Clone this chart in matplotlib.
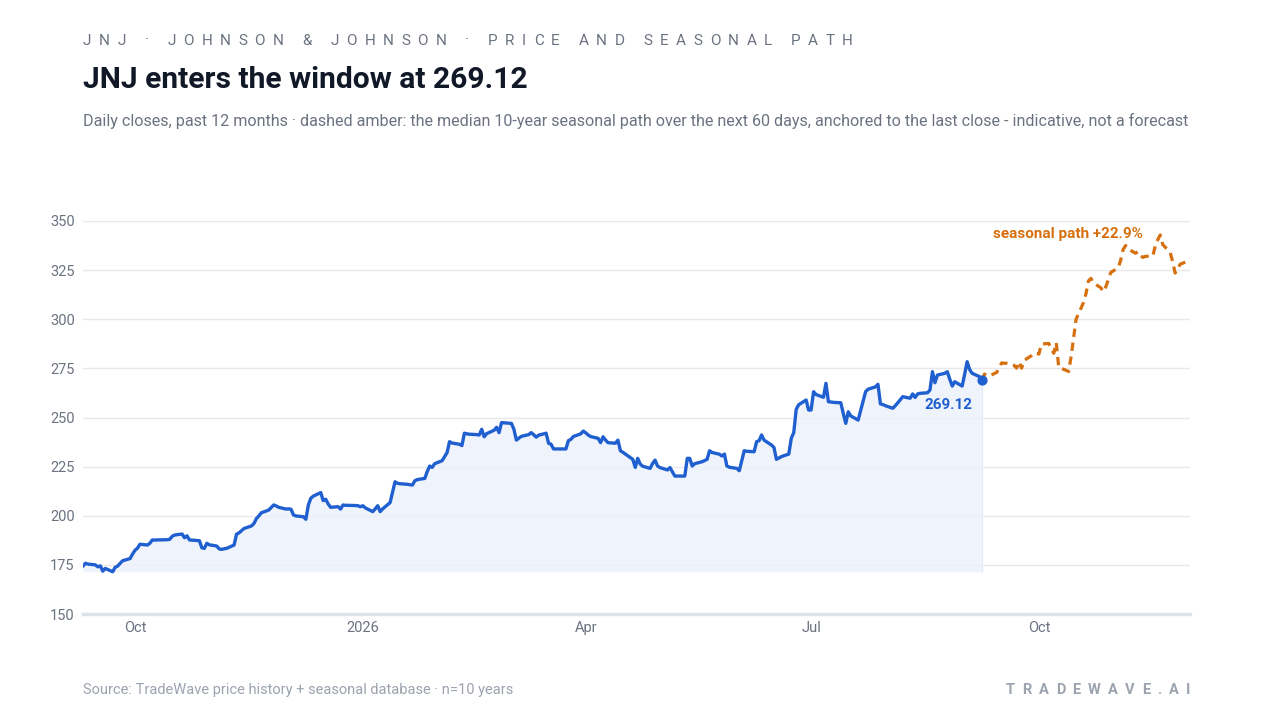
import matplotlib
matplotlib.use('Agg')
import matplotlib.pyplot as plt
import matplotlib.dates as mdates
from matplotlib.font_manager import FontProperties
import numpy as np
import pandas as pd

plt.rcParams['font.family'] = ['Roboto', 'DejaVu Sans']

# daily closes, past 12 months
closes = [
    174.4, 175.8, 175.4, 175.0, 174.0, 174.5, 171.8, 173.2, 171.5, 173.8,
    174.4, 175.8, 177.1, 178.2, 180.5, 182.4, 183.5, 185.5, 185.1, 186.0,
    187.7, 187.6, 187.7, 187.8, 187.8, 188.0, 189.5, 190.2, 190.7, 188.8,
    189.8, 187.7, 187.6, 187.3, 183.7, 183.4, 186.0, 185.2, 184.6, 183.1,
    182.9, 183.2, 183.4, 185.1, 190.6, 191.3, 192.4, 193.5, 194.8, 196.0,
    198.5, 199.9, 201.5, 202.9, 204.2, 205.5, 205.0, 204.3, 203.4, 203.5,
    203.3, 200.4, 199.9, 199.5, 198.2, 205.5, 208.9, 210.0, 211.8, 207.7,
    208.4, 206.0, 204.3, 204.6, 203.4, 205.5, 205.3, 205.3, 205.2, 205.1,
    204.6, 205.1, 204.0, 202.1, 203.5, 205.1, 202.1, 203.5, 206.7, 212.0,
    217.3, 216.5, 216.3, 216.0, 215.8, 215.6, 217.8, 218.4, 219.0, 222.5,
    225.3, 224.6, 226.5, 228.0, 230.0, 232.1, 237.7, 237.0, 236.4, 235.7,
    242.0, 241.7, 241.5, 241.3, 241.1, 244.0, 240.2, 241.8, 243.5, 245.0,
    242.3, 247.4, 247.3, 247.0, 244.0, 238.5, 239.5, 240.4, 241.3, 242.3,
    241.2, 240.0, 241.0, 242.0, 236.9, 236.4, 234.0, 234.0, 234.0, 234.0,
    238.2, 238.9, 240.3, 241.7, 243.1, 242.2, 241.1, 240.3, 239.4, 237.2,
    240.2, 238.5, 237.2, 236.9, 238.5, 233.1, 232.3, 231.4, 228.7, 224.6,
    229.2, 226.3, 225.2, 224.1, 226.6, 228.3, 225.3, 224.5, 223.3, 224.5,
    222.4, 220.2, 220.2, 220.2, 229.2, 229.2, 225.3, 226.5, 227.5, 228.1,
    228.7, 233.1, 232.2, 231.3, 230.4, 231.4, 225.3, 224.7, 224.1, 222.9,
    228.0, 233.1, 232.8, 232.6, 237.7, 238.2, 241.1, 238.5, 236.0, 234.8,
    228.7, 229.4, 230.1, 231.4, 239.4, 242.3, 254.2, 256.5, 258.9, 253.8,
    253.8, 263.1, 261.7, 260.3, 267.4, 258.0, 257.9, 257.7, 257.5, 252.0,
    247.0, 252.9, 250.8, 248.7, 253.5, 258.3, 263.1, 264.4, 265.6, 266.9,
    256.9, 256.6, 256.0, 254.7, 256.0, 257.5, 259.0, 260.6, 259.8, 262.0,
    260.2, 262.0, 262.3, 262.6, 264.0, 273.3, 267.7, 271.6, 272.5, 273.3,
    269.5, 266.0, 268.2, 266.0, 272.0, 278.4, 274.5, 272.5, 270.8, 269.12,
]

# median 10-year seasonal path, next 60 trading days, anchored to last close
seasonal = [
    269.12, 272.1, 271.5, 271.1, 273.0, 276.0, 277.8, 277.6, 277.6, 276.5,
    275.1, 278.4, 275.1, 279.0, 281.5, 282.7, 282.5, 282.3, 287.4, 287.7,
    284.7, 282.7, 288.1, 275.5, 274.0, 273.4, 281.0, 290.5, 300.0, 308.5,
    313.0, 319.5, 320.8, 318.5, 316.0, 314.0, 316.5, 320.0, 323.8, 326.2,
    330.0, 335.5, 337.5, 335.8, 333.6, 334.4, 332.3, 331.5, 332.0, 332.2,
    337.5, 340.5, 342.9, 338.0, 334.0, 329.3, 323.5, 325.5, 328.0, 329.5,
    330.75,
]

last_date = '2026-09-08'
yticks = [150, 175, 200, 225, 250, 275, 300, 325, 350]

header = 'JNJ · JOHNSON & JOHNSON · PRICE AND SEASONAL PATH'
title = 'JNJ enters the window at 269.12'
subtitle = ('Daily closes, past 12 months · dashed amber: the median 10-year seasonal path '
            'over the next 60 days, anchored to the last close - indicative, not a forecast')
source = 'Source: TradeWave price history + seasonal database · n=10 years'
brand = 'TRADEWAVE.AI'

BLUE = '#1f5fd0'
AMBER = '#d6700e'
GRAY = '#6b7280'
LIGHT = '#9ca3af'

dates = pd.bdate_range(end=last_date, periods=len(closes))
sdates = pd.bdate_range(start=last_date, periods=len(seasonal))
closes = np.array(closes)
seasonal = np.array(seasonal)

W, H = 1280, 720
fig = plt.figure(figsize=(12.8, 7.2), dpi=100)
ax = fig.add_axes([83 / W, (H - 614) / H, (1190 - 83) / W, (614 - 221) / H])

ax.fill_between(dates, closes, closes.min(), color='#edf2fc', alpha=0.85, lw=0, zorder=1)
ax.plot([dates[-1], dates[-1]], [closes.min(), closes[-1]], color='#e4e9f3', lw=0.8, zorder=1)
ax.plot(dates, closes, color=BLUE, lw=2.4, zorder=3, solid_joinstyle='round')
ax.plot(sdates, seasonal, color=AMBER, lw=2.3, ls=(0, (2.6, 1.8)), zorder=3)
ax.scatter([dates[-1]], [closes[-1]], s=40, color=BLUE, zorder=4)

ax.text(dates[-1] - pd.Timedelta(days=4), 256.4, f'{closes[-1]:.2f}', color=BLUE,
        fontsize=11, fontweight='bold', ha='right', va='center')
pct = (seasonal[-1] / seasonal[0] - 1) * 100
ax.text(pd.Timestamp('2026-11-12'), 343.4, f'seasonal path +{pct:.1f}%', color=AMBER,
        fontsize=11, fontweight='bold', ha='right', va='center')

ax.set_xlim(dates[0], sdates[-1])
ax.set_ylim(150, 350)
ax.set_yticks(yticks)
ax.grid(axis='y', color='#e6e8ee', lw=1)
ax.set_axisbelow(True)
for s in ['left', 'right', 'top']:
    ax.spines[s].set_visible(False)
ax.spines['bottom'].set_color('#dde1e8')
ax.spines['bottom'].set_linewidth(2.4)

ax.xaxis.set_major_locator(mdates.MonthLocator(bymonth=[1, 4, 7, 10]))
ax.xaxis.set_major_formatter(plt.FuncFormatter(
    lambda v, p: mdates.num2date(v).strftime('%Y' if mdates.num2date(v).month == 1 else '%b')))
ax.tick_params(axis='both', length=0, labelsize=10.5, labelcolor=GRAY)
ax.tick_params(axis='y', pad=6)
ax.tick_params(axis='x', pad=5)


def spaced_text(x_px, y_px, s, width_px, ha='left', **kw):
    # letter-spaced text fitted to a given width
    r = fig.canvas.get_renderer()
    fp = FontProperties(family=['Roboto', 'DejaVu Sans'], size=kw.get('size', 10),
                        weight=kw.get('weight', 'normal'))
    widths = [r.get_text_width_height_descent(c, fp, ismath=False)[0] for c in s]
    track = (width_px - sum(widths)) / (len(s) - 1)
    x = x_px if ha == 'left' else x_px - width_px
    for c, w in zip(s, widths):
        fig.text(x / W, (H - y_px) / H, c, fontproperties=fp, color=kw.get('color', GRAY),
                 ha='left', va='center')
        x += w + track


spaced_text(83, 41, header, 770, size=11, color=GRAY)
fig.text(83 / W, (H - 80) / H, title, fontsize=21.6, fontweight='bold', color='#111827',
         va='center', ha='left')
fig.text(83 / W, (H - 121) / H, subtitle, fontsize=11.6, color=GRAY, va='center', ha='left')
fig.text(83 / W, (H - 690) / H, source, fontsize=10.5, color=LIGHT, va='center', ha='left')
spaced_text(1190, 690, brand, 184, ha='right', size=10.5, weight='bold', color=LIGHT)

fig.savefig('out.png', dpi=100, facecolor='white')
